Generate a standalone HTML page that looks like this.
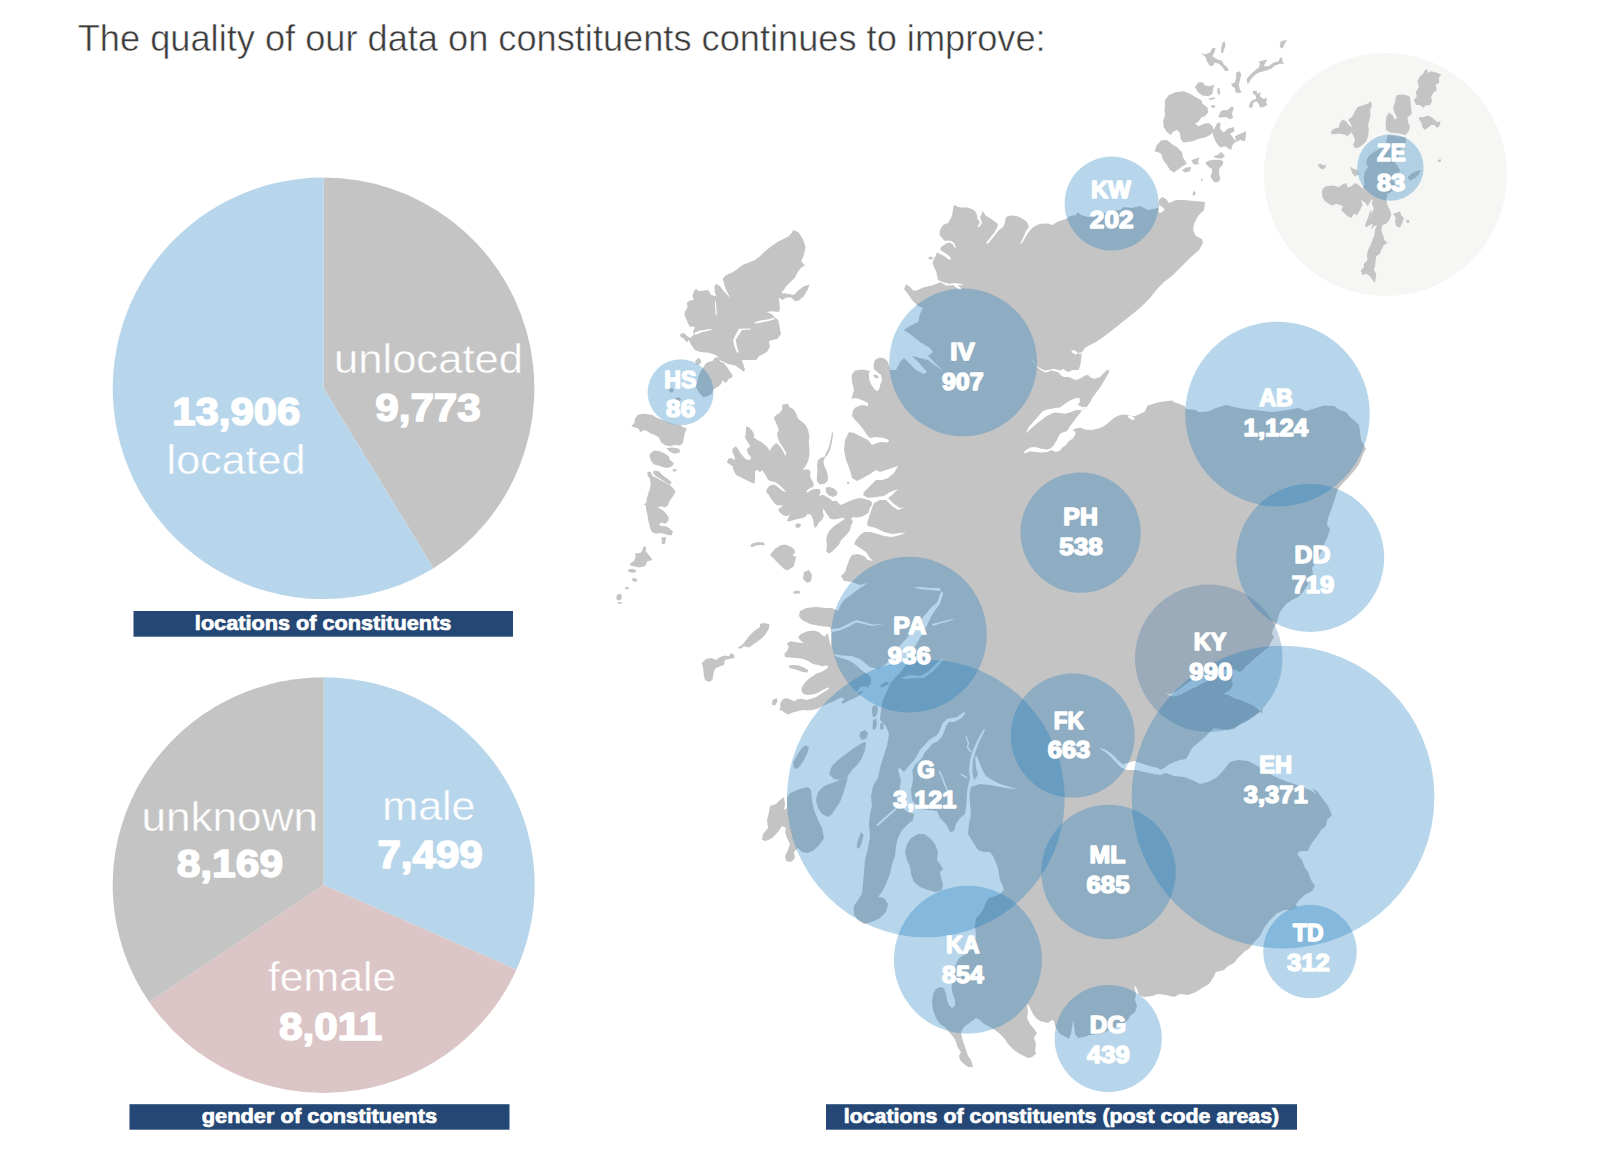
<!DOCTYPE html>
<html lang="en"><head><meta charset="utf-8"><title>Constituents data quality</title>
<style>html,body{margin:0;padding:0;background:#fff}svg{display:block}</style></head>
<body>
<svg width="1600" height="1161" viewBox="0 0 1600 1161">
<rect width="1600" height="1161" fill="#fff"/>
<text x="77.75" y="51.0" font-family='"Liberation Sans", "DejaVu Sans", sans-serif' font-size="37" font-weight="normal" fill="#3c3c3c" textLength="967.92" lengthAdjust="spacingAndGlyphs" stroke="#fff" stroke-width="0.5">The quality of our data on constituents continues to improve:</text>
<path d="M323.60,388.30 L323.60,177.50 A210.8,210.8 0 0 1 433.48,568.19 Z" fill="#c4c4c4"/>
<path d="M323.60,388.30 L433.48,568.19 A210.8,210.8 0 1 1 323.60,177.50 Z" fill="#b8d6eb"/>
<text x="333.96" y="373.0" font-family='"Liberation Sans", "DejaVu Sans", sans-serif' font-size="40" font-weight="normal" fill="#fff" textLength="189.07" lengthAdjust="spacingAndGlyphs" stroke="#c4c4c4" stroke-width="0.4">unlocated</text>
<text x="375.22" y="421.0" font-family='"Liberation Sans", "DejaVu Sans", sans-serif' font-size="39" font-weight="bold" fill="#fff" textLength="105.57" lengthAdjust="spacingAndGlyphs" stroke="#fff" stroke-width="1.6" stroke-linejoin="round">9,773</text>
<text x="172.24" y="425.0" font-family='"Liberation Sans", "DejaVu Sans", sans-serif' font-size="39" font-weight="bold" fill="#fff" textLength="128.17" lengthAdjust="spacingAndGlyphs" stroke="#fff" stroke-width="1.6" stroke-linejoin="round">13,906</text>
<text x="166.62" y="473.5" font-family='"Liberation Sans", "DejaVu Sans", sans-serif' font-size="40" font-weight="normal" fill="#fff" textLength="138.85" lengthAdjust="spacingAndGlyphs" stroke="#b8d6eb" stroke-width="0.4">located</text>
<rect x="133.5" y="611" width="379.5" height="25.7" fill="#244775"/>
<text x="194.87" y="630.0" font-family='"Liberation Sans", "DejaVu Sans", sans-serif' font-size="20" font-weight="bold" fill="#fff" textLength="256.52" lengthAdjust="spacingAndGlyphs" stroke="#fff" stroke-width="0.7" stroke-linejoin="round">locations of constituents</text>
<path d="M323.70,885.10 L323.70,677.30 A211,207.8 0 0 1 516.44,969.65 Z" fill="#b8d6eb"/>
<path d="M323.70,885.10 L516.44,969.65 A211,207.8 0 0 1 149.18,1001.89 Z" fill="#dcc5c6"/>
<path d="M323.70,885.10 L149.18,1001.89 A211,207.8 0 0 1 323.70,677.30 Z" fill="#c4c4c4"/>
<text x="382.30" y="819.5" font-family='"Liberation Sans", "DejaVu Sans", sans-serif' font-size="40" font-weight="normal" fill="#fff" textLength="93.26" lengthAdjust="spacingAndGlyphs" stroke="#b8d6eb" stroke-width="0.4">male</text>
<text x="377.46" y="867.6" font-family='"Liberation Sans", "DejaVu Sans", sans-serif' font-size="39" font-weight="bold" fill="#fff" textLength="105.32" lengthAdjust="spacingAndGlyphs" stroke="#fff" stroke-width="1.6" stroke-linejoin="round">7,499</text>
<text x="141.45" y="831.0" font-family='"Liberation Sans", "DejaVu Sans", sans-serif' font-size="40" font-weight="normal" fill="#fff" textLength="176.60" lengthAdjust="spacingAndGlyphs" stroke="#c4c4c4" stroke-width="0.4">unknown</text>
<text x="176.67" y="877.3" font-family='"Liberation Sans", "DejaVu Sans", sans-serif' font-size="39" font-weight="bold" fill="#fff" textLength="106.43" lengthAdjust="spacingAndGlyphs" stroke="#fff" stroke-width="1.6" stroke-linejoin="round">8,169</text>
<text x="267.96" y="991.3" font-family='"Liberation Sans", "DejaVu Sans", sans-serif' font-size="40" font-weight="normal" fill="#fff" textLength="128.27" lengthAdjust="spacingAndGlyphs" stroke="#dcc5c6" stroke-width="0.4">female</text>
<text x="278.91" y="1039.8" font-family='"Liberation Sans", "DejaVu Sans", sans-serif' font-size="39" font-weight="bold" fill="#fff" textLength="103.49" lengthAdjust="spacingAndGlyphs" stroke="#fff" stroke-width="1.6" stroke-linejoin="round">8,011</text>
<rect x="129.5" y="1104.2" width="380" height="25.5" fill="#244775"/>
<text x="201.67" y="1122.7" font-family='"Liberation Sans", "DejaVu Sans", sans-serif' font-size="20" font-weight="bold" fill="#fff" textLength="235.45" lengthAdjust="spacingAndGlyphs" stroke="#fff" stroke-width="0.7" stroke-linejoin="round">gender of constituents</text>
<circle cx="1385.4" cy="174.6" r="121.6" fill="#f6f6f4"/>
<g fill="#c4c4c4" stroke="none">
<path d="M955.0,205.0 L958.0,207.0 L962.0,207.5 L967.0,207.5 L972.0,209.0 L975.0,211.0 L977.0,215.0 L977.5,219.0 L980.0,222.0 L977.5,227.0 L979.0,227.2 L982.0,223.0 L981.0,220.0 L980.0,217.0 L982.0,214.0 L981.5,210.5 L984.0,213.0 L986.0,216.0 L990.0,218.0 L994.0,221.0 L998.0,224.0 L997.0,228.0 L994.0,233.0 L990.0,238.0 L986.0,243.0 L987.5,244.0 L991.0,240.0 L995.0,235.0 L999.0,230.0 L1003.0,227.0 L1005.0,223.0 L1005.5,218.0 L1008.0,216.0 L1013.0,215.5 L1018.0,216.5 L1023.0,219.0 L1027.0,222.0 L1029.0,227.0 L1026.0,231.0 L1024.0,236.0 L1021.0,242.0 L1020.0,244.0 L1022.0,243.0 L1025.0,238.0 L1028.0,233.0 L1031.0,229.0 L1035.0,226.0 L1040.0,223.8 L1048.0,223.6 L1052.0,225.0 L1058.0,221.6 L1066.0,219.0 L1070.0,216.0 L1076.0,215.0 L1078.0,212.0 L1081.0,215.0 L1088.0,217.0 L1096.0,216.0 L1104.0,213.0 L1112.0,211.0 L1120.0,210.0 L1124.0,207.0 L1132.0,208.0 L1140.0,206.0 L1148.0,210.0 L1158.0,208.0 L1159.0,200.0 L1162.0,197.0 L1166.0,199.0 L1169.0,203.0 L1176.0,200.0 L1184.0,200.0 L1194.0,201.0 L1205.0,202.0 L1204.0,210.0 L1198.0,216.0 L1194.0,224.0 L1193.0,230.0 L1196.0,236.0 L1202.0,239.0 L1203.0,243.0 L1199.0,250.0 L1190.0,258.0 L1180.0,268.0 L1172.0,276.0 L1164.0,282.0 L1158.0,288.0 L1150.0,298.0 L1140.0,308.0 L1130.0,316.0 L1120.0,324.0 L1110.0,332.0 L1102.0,338.0 L1096.0,342.0 L1088.0,346.0 L1080.0,351.0 L1085.0,348.1 L1081.9,352.5 L1081.2,357.5 L1080.6,363.8 L1079.4,368.1 L1085.0,375.6 L1088.1,375.0 L1091.2,378.1 L1095.0,378.8 L1100.0,376.9 L1103.1,373.8 L1106.2,370.6 L1109.4,370.0 L1108.8,373.1 L1106.2,377.5 L1103.1,382.5 L1100.0,387.5 L1096.2,392.5 L1092.5,397.5 L1090.0,402.5 L1086.2,407.5 L1081.9,410.0 L1080.6,412.5 L1077.5,416.2 L1073.8,421.2 L1070.0,426.2 L1066.9,431.2 L1072.5,430.0 L1075.0,428.8 L1080.0,427.5 L1085.0,429.4 L1091.2,430.0 L1097.5,428.8 L1102.5,426.9 L1106.2,424.4 L1110.0,421.2 L1113.8,418.1 L1118.8,415.6 L1122.5,414.4 L1127.5,415.0 L1135.0,416.2 L1140.0,413.8 L1144.4,411.9 L1146.2,408.8 L1147.5,405.6 L1151.2,404.4 L1157.5,402.5 L1165.0,401.2 L1172.5,400.6 L1173.8,401.9 L1178.8,403.8 L1185.0,406.2 L1186.0,409.0 L1196.0,410.0 L1198.0,412.0 L1208.0,411.6 L1216.0,408.0 L1226.0,405.0 L1234.0,407.0 L1244.0,409.0 L1254.0,410.0 L1264.0,411.0 L1272.0,412.0 L1280.0,411.0 L1288.0,410.0 L1298.0,408.0 L1306.0,411.0 L1316.0,408.0 L1324.0,405.6 L1334.0,406.0 L1340.0,410.0 L1346.0,412.0 L1350.0,417.0 L1355.0,421.0 L1359.0,425.0 L1360.0,432.0 L1361.0,440.0 L1364.0,445.0 L1366.0,449.0 L1363.0,454.0 L1361.0,460.0 L1358.0,466.0 L1353.0,472.0 L1348.0,478.0 L1342.0,484.0 L1338.0,489.0 L1336.0,495.0 L1334.0,502.0 L1331.0,510.0 L1328.0,518.0 L1327.0,525.0 L1330.0,529.0 L1328.0,536.0 L1325.0,542.0 L1322.0,550.0 L1318.0,558.0 L1315.0,564.0 L1312.0,568.0 L1313.0,574.0 L1310.0,580.0 L1307.0,586.0 L1303.0,592.0 L1298.0,597.0 L1292.0,600.0 L1286.0,604.0 L1283.0,608.0 L1280.0,612.0 L1279.0,615.0 L1278.0,619.0 L1276.0,624.0 L1273.0,629.0 L1272.0,634.0 L1274.0,637.0 L1271.0,642.0 L1269.0,647.0 L1265.0,650.0 L1260.0,654.0 L1255.0,658.0 L1251.0,662.0 L1246.0,666.0 L1243.0,670.0 L1240.0,672.0 L1233.0,676.0 L1231.5,680.0 L1233.0,685.0 L1230.0,690.0 L1225.0,693.0 L1223.0,694.0 L1228.0,695.0 L1235.0,698.5 L1240.0,700.0 L1245.0,702.0 L1250.0,704.0 L1255.0,707.0 L1260.0,711.0 L1262.0,714.0 L1263.0,708.0 L1260.0,712.0 L1254.0,716.0 L1248.0,720.0 L1240.0,724.0 L1234.0,729.0 L1228.0,730.0 L1220.0,729.0 L1214.0,728.0 L1210.0,732.0 L1204.0,738.0 L1198.0,743.0 L1192.0,748.0 L1189.0,754.0 L1186.0,759.0 L1180.0,760.0 L1174.0,762.0 L1168.0,765.0 L1164.0,768.0 L1160.0,770.0 L1166.0,773.0 L1174.0,776.0 L1184.0,777.0 L1192.0,780.0 L1200.0,784.0 L1208.0,782.0 L1216.0,778.0 L1222.0,772.0 L1226.0,767.0 L1230.0,762.0 L1238.0,760.0 L1248.0,761.0 L1256.0,765.0 L1264.0,770.0 L1272.0,775.0 L1280.0,779.0 L1288.0,782.0 L1300.0,786.0 L1310.0,790.0 L1318.0,795.0 L1323.0,800.0 L1327.0,806.0 L1330.0,812.0 L1312.0,788.0 L1318.0,792.0 L1322.0,798.0 L1328.0,806.0 L1332.0,815.0 L1327.0,820.0 L1326.0,826.0 L1321.0,830.0 L1318.0,835.0 L1314.0,840.0 L1310.0,846.0 L1308.0,851.0 L1300.0,851.0 L1297.0,854.0 L1302.0,860.0 L1304.0,866.0 L1308.0,872.0 L1311.0,880.0 L1315.0,886.0 L1312.0,891.0 L1306.0,894.0 L1300.0,899.0 L1296.0,904.0 L1297.0,907.0 L1290.0,910.0 L1284.0,910.0 L1276.0,914.0 L1270.0,920.0 L1264.0,928.0 L1260.0,936.0 L1254.0,942.0 L1250.0,948.0 L1244.0,952.0 L1238.0,958.0 L1234.0,963.0 L1228.0,966.0 L1224.0,970.0 L1216.0,972.0 L1213.0,978.0 L1209.0,984.0 L1202.0,988.0 L1196.0,992.0 L1188.0,995.0 L1180.0,994.0 L1174.0,997.0 L1166.0,995.0 L1158.0,994.0 L1152.0,996.0 L1144.0,997.0 L1139.0,995.0 L1137.0,989.0 L1134.0,985.0 L1136.0,994.0 L1135.0,1000.0 L1137.0,1006.0 L1135.0,1012.0 L1130.0,1016.0 L1128.0,1020.0 L1122.0,1024.0 L1116.0,1027.0 L1110.0,1030.0 L1100.0,1034.0 L1090.0,1035.0 L1084.0,1037.0 L1078.0,1038.0 L1075.0,1034.0 L1074.4,1027.0 L1073.0,1020.0 L1072.0,1028.0 L1071.0,1034.0 L1069.0,1039.0 L1064.0,1036.0 L1060.0,1034.0 L1058.0,1031.0 L1055.0,1026.0 L1054.0,1021.0 L1052.0,1020.0 L1048.0,1023.0 L1040.0,1021.0 L1036.0,1018.0 L1033.0,1014.0 L1031.0,1010.0 L1029.0,1006.0 L1027.0,1004.0 L1028.0,1012.0 L1027.0,1018.0 L1030.0,1024.0 L1034.0,1029.0 L1037.0,1033.0 L1034.0,1038.0 L1036.0,1044.0 L1035.0,1050.0 L1036.0,1054.0 L1032.0,1057.0 L1028.0,1058.0 L1020.0,1054.0 L1014.0,1050.0 L1008.0,1044.0 L1004.0,1038.0 L1000.0,1034.0 L995.0,1030.0 L990.0,1027.0 L984.0,1024.0 L980.0,1020.0 L976.0,1018.0 L972.0,1021.0 L968.0,1024.0 L964.0,1027.0 L961.0,1032.0 L962.0,1038.0 L964.0,1044.0 L966.0,1050.0 L968.0,1056.0 L971.0,1060.0 L973.0,1067.0 L968.0,1067.0 L964.0,1064.0 L960.0,1060.0 L959.0,1056.0 L961.0,1052.0 L958.0,1048.0 L956.0,1042.0 L954.0,1038.0 L950.0,1033.0 L946.0,1028.0 L940.0,1024.0 L936.0,1018.0 L933.0,1010.0 L932.0,1002.0 L933.0,994.0 L936.0,989.0 L940.0,987.0 L944.0,988.0 L946.0,994.0 L947.0,1000.0 L949.0,1005.0 L952.0,1008.0 L955.0,1006.0 L955.0,1000.0 L953.0,995.0 L951.6,989.0 L952.0,980.0 L954.0,972.0 L956.0,964.0 L959.0,958.0 L966.0,954.0 L974.0,946.0 L976.0,936.0 L975.0,926.0 L976.0,918.0 L980.0,914.0 L984.0,908.0 L986.0,902.0 L989.0,898.0 L996.0,896.0 L1000.0,894.0 L1004.0,890.0 L1002.0,884.0 L1000.0,880.0 L1000.0,880.0 L998.0,868.0 L993.0,856.0 L990.0,852.0 L984.0,852.0 L978.0,850.0 L973.0,842.0 L968.0,834.0 L969.0,824.0 L971.0,814.0 L970.0,804.0 L969.6,794.0 L971.0,787.0 L968.0,786.0 L967.0,792.0 L966.4,804.0 L965.0,814.0 L960.0,818.0 L956.0,824.0 L954.0,831.0 L950.0,832.0 L946.0,824.0 L940.0,818.0 L937.0,811.0 L928.0,810.0 L920.0,809.0 L914.0,814.0 L913.0,820.0 L908.0,824.0 L902.0,830.0 L898.0,838.0 L896.0,846.0 L895.0,856.0 L892.0,864.0 L890.0,874.0 L886.0,884.0 L882.0,892.0 L878.0,897.0 L884.0,898.0 L888.0,904.0 L886.0,912.0 L880.0,918.0 L872.0,922.0 L864.0,924.0 L858.0,920.0 L853.6,914.0 L854.0,906.0 L858.0,900.0 L862.0,894.0 L863.0,884.0 L864.0,872.0 L865.0,860.0 L868.0,848.0 L870.0,836.0 L869.0,824.0 L870.0,814.0 L872.0,806.0 L871.0,796.0 L873.0,786.0 L878.0,778.0 L880.0,768.0 L883.0,758.0 L887.0,746.0 L889.0,734.0 L886.0,726.0 L880.0,720.0 L881.0,710.0 L883.0,700.0 L887.0,691.0 L890.0,684.0 L878.0,669.0 L870.0,667.0 L860.0,659.0 L852.0,656.0 L842.0,655.6 L833.0,654.0 L831.0,648.0 L831.6,632.0 L830.0,627.0 L820.0,626.0 L810.0,624.0 L802.0,620.0 L799.0,616.0 L800.0,611.0 L806.0,608.0 L816.0,607.0 L826.0,608.0 L832.0,608.0 L838.0,611.0 L840.0,606.0 L844.0,600.0 L852.0,594.0 L860.0,588.0 L868.0,583.0 L860.0,585.0 L852.0,582.0 L844.0,581.0 L841.0,576.0 L845.0,572.0 L847.0,566.0 L849.0,560.0 L852.0,555.0 L858.0,554.0 L864.0,556.0 L868.0,560.0 L873.0,561.0 L870.0,558.0 L866.0,552.0 L860.0,548.0 L854.0,544.0 L856.0,540.0 L860.0,535.0 L864.0,532.0 L870.0,532.0 L878.0,534.0 L884.0,536.0 L892.0,537.0 L900.0,535.0 L906.0,532.4 L900.0,533.0 L892.0,534.0 L884.0,532.0 L876.0,528.0 L868.0,526.0 L867.0,524.0 L868.0,520.0 L870.0,514.0 L872.0,508.0 L874.0,503.0 L880.0,500.0 L886.0,500.0 L892.0,506.0 L898.0,510.0 L905.0,507.0 L900.0,508.0 L894.0,504.0 L888.0,498.0 L892.0,495.0 L898.0,489.0 L890.0,492.0 L884.0,496.0 L876.0,497.0 L868.0,498.0 L863.0,495.0 L864.0,492.0 L868.0,488.0 L872.0,484.0 L876.0,480.0 L882.0,480.0 L888.0,478.0 L894.0,473.0 L898.0,466.0 L892.0,468.0 L886.0,470.0 L880.0,472.0 L876.0,470.0 L870.0,474.0 L863.0,478.0 L857.0,481.0 L852.0,478.0 L850.0,470.0 L846.0,460.0 L844.0,450.0 L845.0,440.0 L849.0,432.0 L854.0,433.0 L860.0,436.0 L868.0,440.0 L872.0,445.0 L880.0,442.0 L888.0,442.4 L889.0,440.0 L884.0,438.0 L876.0,437.0 L870.0,438.0 L867.0,435.0 L863.0,429.0 L859.0,424.0 L855.0,420.0 L852.0,416.0 L853.0,410.0 L856.0,407.0 L862.0,405.0 L868.0,406.0 L868.0,403.0 L862.0,400.0 L856.0,398.0 L851.0,399.0 L852.0,397.0 L854.0,390.0 L852.0,382.0 L851.6,375.0 L855.0,370.6 L862.0,369.4 L868.0,370.4 L870.0,371.0 L868.8,374.0 L869.2,379.0 L871.2,384.4 L874.4,389.2 L877.2,391.2 L879.2,389.0 L880.2,385.0 L882.0,380.0 L881.0,375.0 L877.2,372.0 L874.0,369.2 L873.6,366.0 L874.0,362.0 L876.0,359.0 L880.0,357.6 L884.4,358.4 L887.4,361.0 L890.0,368.0 L890.0,370.0 L896.0,370.0 L900.0,362.0 L904.0,358.0 L908.0,362.0 L916.0,370.0 L924.0,374.0 L927.0,372.0 L920.0,364.0 L912.0,356.0 L920.0,358.0 L928.0,360.0 L936.0,366.0 L943.0,371.0 L938.0,366.0 L928.0,356.0 L933.0,352.0 L930.0,348.0 L920.0,342.0 L910.0,334.0 L904.0,330.0 L910.0,326.0 L918.0,322.0 L920.0,314.0 L923.0,308.0 L918.0,306.0 L915.0,303.0 L912.0,300.0 L908.0,294.0 L904.0,289.0 L906.2,284.2 L909.5,286.5 L913.5,290.8 L918.0,290.0 L922.0,288.0 L927.0,286.5 L932.0,285.5 L936.0,284.0 L940.0,282.2 L942.5,283.2 L946.0,285.5 L950.0,285.5 L953.0,285.0 L956.0,287.5 L960.0,290.0 L961.5,288.5 L958.0,285.5 L964.0,284.7 L960.0,283.8 L954.0,283.0 L949.0,283.8 L944.0,282.5 L940.0,281.0 L938.0,280.0 L937.0,275.0 L936.0,271.0 L934.0,267.0 L932.5,263.0 L934.0,259.0 L936.0,255.0 L937.0,252.5 L940.0,254.0 L944.0,256.0 L948.0,259.0 L950.0,260.0 L951.0,258.0 L948.0,255.0 L945.0,253.0 L942.0,251.0 L940.0,249.5 L941.0,247.0 L944.0,245.0 L947.0,243.0 L950.0,242.5 L953.0,244.5 L955.0,248.0 L956.0,247.0 L954.0,243.0 L951.0,241.0 L948.0,240.5 L945.0,241.0 L942.0,238.0 L939.5,235.0 L940.0,230.0 L943.0,225.0 L948.0,223.0 L951.0,218.0 L952.5,213.0 L953.5,206.0Z"/>
<path d="M782.5,404.4 L788.1,403.8 L789.4,406.9 L793.8,409.4 L796.2,413.8 L798.1,418.8 L802.5,421.9 L805.6,425.0 L808.1,430.0 L809.4,436.2 L808.8,442.5 L809.4,448.8 L809.4,455.0 L808.1,461.2 L805.6,466.2 L802.5,470.0 L805.0,469.4 L808.8,469.4 L810.6,471.9 L810.0,476.2 L811.9,480.0 L813.8,483.8 L813.1,486.9 L810.0,488.1 L806.2,491.2 L807.5,492.5 L811.2,490.0 L816.2,488.8 L820.0,489.4 L820.6,492.5 L818.8,496.2 L821.2,495.0 L823.8,495.0 L826.9,496.9 L830.0,498.8 L832.5,501.2 L836.2,500.6 L838.1,502.5 L840.0,505.0 L843.8,503.8 L848.8,501.2 L853.8,499.4 L858.8,498.1 L863.8,498.8 L868.8,500.0 L871.9,501.9 L871.9,505.0 L869.4,508.8 L868.8,512.5 L865.0,515.0 L861.2,516.9 L856.2,517.5 L852.5,516.9 L851.2,519.4 L853.1,521.2 L851.2,525.0 L850.0,530.0 L847.5,533.8 L843.8,537.5 L841.2,540.0 L838.8,545.0 L832.5,551.2 L828.8,553.8 L826.2,551.2 L826.9,545.0 L826.2,540.0 L827.5,533.8 L830.0,530.0 L833.8,526.2 L837.5,523.8 L841.2,521.2 L845.0,518.8 L842.5,517.5 L838.8,518.8 L833.8,519.4 L830.0,518.8 L827.5,515.0 L825.0,511.2 L822.5,508.1 L823.1,512.5 L823.8,516.2 L821.9,520.0 L818.8,522.5 L816.9,526.2 L815.0,528.1 L813.8,525.0 L813.1,520.0 L811.2,515.0 L807.5,513.8 L806.2,516.2 L802.5,518.1 L798.8,518.8 L793.8,520.0 L790.0,521.2 L786.9,521.2 L788.1,518.1 L790.0,515.0 L786.2,516.2 L782.5,515.0 L779.4,511.9 L778.1,508.8 L781.2,507.5 L782.5,505.0 L780.0,505.6 L776.2,505.0 L773.8,502.5 L771.2,498.8 L768.8,495.0 L766.2,491.9 L766.9,488.8 L770.0,485.6 L773.8,484.4 L776.9,486.2 L780.0,488.8 L783.1,491.2 L786.2,491.9 L782.5,488.1 L778.8,484.4 L775.0,481.9 L771.2,481.2 L768.1,480.0 L766.2,476.2 L763.8,472.5 L761.9,470.0 L760.0,472.5 L757.5,470.0 L755.0,471.2 L755.0,480.0 L754.4,483.8 L751.2,482.5 L746.2,480.0 L741.2,477.5 L736.2,475.0 L733.8,471.2 L732.5,466.2 L728.8,463.8 L726.9,462.5 L728.1,458.8 L731.2,458.1 L735.0,460.0 L734.4,456.2 L732.5,452.5 L732.5,448.8 L735.6,446.2 L738.1,448.8 L740.0,452.5 L743.1,456.2 L746.2,459.4 L750.0,460.0 L751.2,457.5 L748.1,453.8 L746.9,450.0 L748.1,447.5 L750.6,446.9 L745.0,437.5 L745.6,433.8 L746.2,426.2 L749.4,427.5 L752.5,431.2 L754.4,435.0 L753.8,437.5 L757.5,440.0 L761.2,441.9 L764.4,444.4 L768.1,448.1 L770.0,451.2 L771.2,448.1 L773.8,445.0 L776.2,443.1 L780.0,446.2 L783.1,451.2 L785.6,456.2 L786.2,453.1 L783.1,447.5 L780.0,443.1 L778.1,438.8 L776.9,433.8 L778.8,430.0 L777.5,426.2 L775.6,421.9 L773.8,418.1 L776.2,415.0 L779.4,413.1 L781.9,410.0Z"/>
<path d="M821.2,457.5 L824.4,456.9 L826.2,452.5 L828.8,447.5 L830.0,442.5 L831.2,437.5 L831.9,432.5 L833.1,432.5 L832.5,438.8 L831.2,445.0 L830.0,450.0 L827.5,455.0 L825.0,457.5 L823.5,461.2 L824.0,465.0 L826.2,470.0 L828.1,476.2 L827.5,481.2 L824.4,483.8 L820.0,484.4 L816.9,481.2 L816.9,476.2 L817.5,470.0 L816.9,465.0 L818.1,460.0Z"/>
<path d="M825.6,487.5 L830.0,486.9 L834.4,488.8 L837.5,491.9 L836.9,495.0 L833.1,496.9 L828.8,495.6 L826.2,492.5Z"/>
<path d="M795.0,525.0 L798.1,523.1 L801.2,524.4 L800.0,527.5 L796.2,527.8Z"/>
<path d="M846.9,481.5 L849.4,481.9 L849.1,484.0 L847.1,483.8Z"/>
<path d="M635.0,553.8 L641.2,552.5 L643.8,546.2 L646.2,546.9 L645.6,551.2 L650.0,556.2 L652.5,560.0 L647.5,561.2 L645.0,566.2 L638.8,567.5 L633.8,566.2 L630.0,565.6 L630.6,563.1 L633.8,561.2 L635.6,556.9Z"/>
<path d="M628.1,569.4 L632.5,568.8 L636.2,570.6 L635.6,572.5 L631.2,572.5 L628.5,571.9Z"/>
<path d="M631.9,578.5 L635.6,578.1 L637.5,580.6 L635.6,581.9 L632.5,581.0Z"/>
<path d="M625.0,587.2 L628.5,586.9 L628.8,589.0 L625.6,589.5Z"/>
<path d="M617.5,594.4 L621.2,593.8 L621.9,598.1 L620.0,600.6 L616.9,600.0 L616.2,596.9Z"/>
<path d="M617.5,602.1 L621.5,602.2 L621.9,603.8 L618.1,603.8Z"/>
<path d="M661.5,537.5 L666.0,536.9 L665.6,541.2 L664.4,544.4 L661.9,543.8Z"/>
<path d="M750.0,545.6 L753.1,543.1 L758.8,542.1 L763.8,542.5 L765.0,545.6 L761.2,545.0 L756.2,545.6 L751.9,547.2Z"/>
<path d="M770.0,555.0 L775.0,548.8 L780.0,545.6 L785.0,544.4 L790.0,546.2 L794.4,549.4 L795.0,553.1 L792.5,555.0 L796.2,556.9 L795.0,561.2 L793.8,566.2 L787.5,570.6 L783.8,568.8 L780.0,565.0 L776.2,561.2 L773.1,558.1Z"/>
<path d="M769.4,623.8 L768.8,628.8 L765.0,635.0 L761.2,638.8 L756.2,642.5 L752.5,645.0 L748.8,647.5 L743.8,646.2 L741.2,648.8 L737.5,648.1 L742.5,644.4 L746.2,640.0 L748.8,636.2 L753.8,631.2 L760.0,626.9 L765.0,624.4Z"/>
<path d="M731.2,653.1 L734.4,655.0 L734.4,658.1 L730.0,658.8 L725.0,660.0 L723.8,665.0 L720.0,666.2 L715.0,668.8 L713.1,675.0 L712.5,680.0 L708.8,681.9 L705.0,680.0 L703.8,675.0 L703.1,667.5 L701.9,663.1 L706.2,658.8 L711.2,658.1 L716.2,660.0 L720.0,656.9 L725.0,655.6 L728.8,656.2Z"/>
<path d="M792.5,591.9 L796.2,590.6 L800.0,591.2 L799.8,593.5 L795.0,593.8Z"/>
<path d="M804.0,572.0 L809.0,570.0 L812.0,575.0 L811.0,581.0 L807.0,583.0 L803.0,579.0Z"/>
<path d="M793.1,230.0 L798.1,231.9 L801.2,236.2 L803.8,241.2 L805.6,247.5 L803.8,255.0 L801.2,261.2 L805.0,265.6 L801.2,267.5 L797.5,272.5 L795.0,277.5 L790.0,282.5 L786.2,286.2 L783.8,290.0 L781.2,293.1 L788.1,293.8 L793.8,295.0 L798.8,290.0 L803.8,286.2 L809.4,284.4 L807.5,290.0 L803.8,296.2 L798.8,300.6 L795.0,301.2 L791.2,297.5 L786.2,297.5 L782.5,300.0 L778.8,297.5 L779.4,302.5 L780.0,308.8 L778.8,311.9 L772.5,311.2 L766.2,311.9 L771.2,313.8 L775.0,317.5 L778.1,320.0 L779.4,325.0 L780.0,330.0 L781.2,333.8 L777.5,338.8 L772.5,340.0 L768.8,341.2 L770.0,346.2 L767.5,351.2 L763.8,353.8 L758.8,356.2 L756.2,360.0 L720.0,360.0 L717.5,356.2 L712.5,353.8 L707.5,352.5 L700.0,351.9 L695.0,350.0 L691.2,345.0 L688.8,340.0 L686.9,342.5 L683.8,338.8 L680.0,336.2 L680.6,333.8 L683.8,333.1 L687.5,336.2 L690.0,338.1 L693.8,335.0 L693.1,331.2 L695.0,327.5 L692.5,326.2 L690.0,326.9 L688.1,323.8 L686.2,318.8 L684.4,315.0 L685.0,311.2 L687.5,307.5 L686.9,302.5 L690.0,300.6 L693.8,300.0 L692.5,296.2 L693.8,291.2 L696.2,288.8 L698.8,291.2 L703.8,290.6 L708.1,290.0 L711.2,295.0 L716.2,296.2 L715.0,292.5 L714.4,286.2 L716.2,283.8 L720.0,286.2 L723.8,291.2 L727.5,295.0 L730.0,298.1 L727.5,292.5 L725.0,287.5 L723.8,282.5 L722.5,278.8 L726.2,275.0 L731.2,273.1 L736.2,270.0 L742.5,265.0 L748.8,262.5 L755.0,260.0 L760.0,256.2 L765.0,251.2 L771.2,246.2 L777.5,241.9 L783.8,238.8 L788.8,236.2 L791.9,232.5Z"/>
<path d="M718.8,357.5 L741.2,357.5 L742.8,363.1 L745.0,369.4 L744.0,371.9 L740.0,368.8 L735.0,365.6 L727.5,363.8 L720.0,360.2Z"/>
<path d="M705.6,363.8 L708.1,361.9 L712.5,361.0 L715.0,357.5 L718.8,357.5 L720.0,361.5 L723.8,363.1 L726.9,366.9 L729.4,370.6 L732.5,375.0 L731.9,377.8 L728.8,378.8 L726.9,381.9 L724.4,382.5 L722.5,380.0 L721.2,383.8 L718.8,386.2 L715.6,388.1 L713.1,389.8 L712.2,393.1 L710.0,395.0 L706.9,396.5 L703.1,397.2 L700.2,394.0 L697.5,390.0 L695.8,386.2 L697.5,380.0 L699.0,375.0 L701.5,370.0 L703.8,366.5Z"/>
<path d="M695.0,361.2 L698.1,358.1 L701.2,360.0 L700.6,363.8 L696.9,365.0Z"/>
<path d="M675.0,398.1 L678.8,397.2 L681.2,399.0 L680.0,401.0 L676.2,400.8Z"/>
<path d="M668.8,389.0 L671.9,387.8 L674.0,390.0 L672.5,392.5 L669.8,392.2Z"/>
<path d="M638.1,414.4 L645.0,413.8 L652.5,415.0 L656.2,417.5 L662.5,420.0 L668.8,422.5 L675.0,424.4 L680.0,425.0 L683.8,427.5 L686.9,428.8 L685.0,432.5 L683.8,437.5 L683.1,442.5 L680.0,445.6 L675.0,445.0 L670.0,446.2 L665.0,445.0 L661.2,442.5 L658.8,437.5 L655.0,435.0 L651.2,433.8 L647.5,431.2 L643.8,430.0 L640.0,432.5 L638.8,428.8 L635.0,427.5 L631.2,426.2 L634.4,423.1 L635.0,418.8Z"/>
<path d="M666.2,448.1 L672.5,447.5 L679.4,448.8 L680.0,452.5 L675.0,453.8 L670.0,451.9Z"/>
<path d="M649.4,454.4 L653.8,450.6 L660.0,451.2 L665.0,453.8 L668.8,456.2 L670.0,460.0 L673.8,463.1 L672.5,466.2 L667.5,468.1 L662.5,466.9 L658.8,465.6 L653.8,464.4 L650.6,460.0Z"/>
<path d="M672.2,469.8 L675.6,468.8 L676.9,470.6 L673.8,472.0Z"/>
<path d="M646.9,473.1 L649.4,471.2 L651.2,472.5 L652.5,476.2 L656.2,477.5 L660.0,480.0 L665.0,482.5 L670.0,485.0 L672.5,487.5 L675.6,491.2 L673.8,495.0 L671.2,498.8 L669.4,501.2 L668.1,505.0 L665.0,507.5 L661.2,506.2 L657.5,507.5 L662.5,510.0 L666.2,513.8 L668.8,517.5 L668.1,521.2 L665.0,523.8 L661.2,522.5 L658.8,525.0 L662.5,526.2 L666.2,526.2 L670.0,528.8 L673.1,531.9 L671.2,535.6 L666.2,534.4 L661.2,533.1 L656.2,533.8 L652.5,532.5 L650.6,529.4 L649.4,525.0 L648.1,520.0 L647.5,515.0 L646.2,510.0 L645.6,505.0 L643.1,504.4 L646.2,503.1 L646.9,498.8 L648.1,493.8 L650.0,488.8 L650.6,483.8 L650.0,478.8 L648.1,476.2Z"/>
<path d="M653.8,470.6 L658.8,471.2 L662.5,475.0 L667.5,478.8 L671.9,482.5 L670.0,484.4 L665.0,481.9 L660.0,478.8 L655.0,475.6 L653.1,473.1Z"/>
<path d="M798.1,636.9 L801.2,633.8 L807.5,631.2 L813.8,630.6 L818.8,631.9 L822.5,635.6 L825.2,636.2 L827.5,632.8 L828.8,637.5 L829.8,642.5 L831.5,647.5 L833.8,652.5 L835.0,655.9 L841.2,658.1 L847.5,660.0 L852.5,662.5 L857.5,666.2 L861.2,670.0 L865.0,672.5 L868.8,675.0 L871.2,678.8 L870.6,683.8 L867.5,687.5 L864.4,686.2 L860.0,687.5 L856.2,692.5 L860.0,691.9 L863.8,690.6 L860.0,695.0 L855.0,698.1 L850.0,700.0 L846.2,701.9 L843.1,703.8 L841.2,701.9 L845.0,698.8 L841.2,697.5 L836.2,700.0 L831.2,702.5 L827.5,703.8 L822.5,706.2 L817.5,708.8 L812.5,710.0 L807.5,710.6 L802.5,710.0 L797.5,711.2 L792.5,712.5 L788.8,714.4 L785.0,713.1 L781.9,710.6 L778.8,710.0 L780.6,707.5 L780.0,703.8 L782.5,699.4 L786.2,698.1 L791.2,700.0 L795.0,701.2 L796.2,699.4 L801.2,698.8 L806.2,700.0 L811.2,698.8 L816.2,696.9 L821.2,693.8 L826.2,690.6 L829.4,688.1 L828.1,687.5 L822.5,690.0 L817.5,693.1 L812.5,694.4 L807.5,695.0 L803.1,693.8 L801.2,690.0 L802.5,686.2 L805.0,682.5 L808.8,678.8 L812.5,676.2 L816.2,673.8 L821.2,671.9 L825.0,670.0 L828.1,667.5 L827.5,665.2 L822.5,666.2 L817.5,665.0 L812.5,663.8 L808.8,661.2 L802.5,658.8 L796.2,658.1 L790.0,657.5 L785.0,656.9 L784.4,653.8 L786.9,651.2 L788.8,647.5 L786.9,643.1 L791.2,641.2 L797.5,642.5 L803.8,643.1 L800.0,640.0Z"/>
<path d="M788.8,665.6 L793.8,665.0 L798.8,665.6 L803.8,667.5 L808.1,670.0 L807.5,672.5 L802.5,671.9 L797.5,670.0 L792.5,668.8 L789.4,668.1Z"/>
<path d="M772.5,700.0 L776.9,698.1 L777.5,701.2 L775.0,705.6 L771.9,705.0Z"/>
<path d="M760.0,623.8 L765.0,623.1 L769.4,624.4 L767.5,630.0 L763.8,635.0 L760.0,637.5Z"/>
<path d="M879.4,670.0 L883.1,666.9 L886.9,665.0 L886.2,666.9 L883.1,670.0 L880.0,671.9Z"/>
<path d="M880.6,685.0 L885.0,682.5 L890.6,680.0 L890.0,682.5 L885.0,686.2 L881.2,687.5Z"/>
<path d="M872.5,706.2 L876.9,705.0 L878.1,710.0 L876.2,716.2 L873.1,717.5 L871.9,712.5Z"/>
<path d="M873.1,720.0 L876.2,718.8 L876.9,725.0 L875.0,730.0 L872.5,728.8Z"/>
<path d="M860.0,732.5 L865.0,730.0 L868.1,733.1 L866.2,738.8 L861.9,740.0 L859.4,736.2Z"/>
<path d="M880.0,723.8 L883.1,723.1 L883.8,728.8 L880.6,730.0Z"/>
<path d="M787.0,798.0 L790.0,793.0 L800.0,789.0 L808.0,787.0 L811.0,790.0 L812.0,800.0 L814.0,810.0 L818.0,820.0 L822.0,828.0 L824.0,838.0 L820.0,844.0 L814.0,850.0 L808.0,853.0 L802.0,852.0 L798.0,848.0 L794.0,852.0 L795.0,858.0 L791.0,862.0 L786.0,861.0 L785.0,856.0 L788.0,850.0 L790.0,844.0 L787.0,838.0 L785.0,832.0 L786.0,828.0 L782.0,826.0 L778.0,832.0 L772.0,838.0 L766.0,841.0 L762.0,840.0 L763.0,834.0 L768.0,828.0 L767.0,820.0 L769.0,812.0 L770.0,806.0 L776.0,804.0 L780.0,800.0 L784.0,797.0 L785.0,804.0 L784.0,810.0 L787.0,808.0Z"/>
<path d="M816.0,800.0 L818.0,792.0 L824.0,786.0 L832.0,783.0 L840.0,780.0 L848.0,777.0 L846.0,784.0 L843.0,794.0 L840.0,802.0 L836.0,808.0 L832.0,814.0 L828.0,817.0 L822.0,814.0 L818.0,808.0Z"/>
<path d="M829.0,774.0 L832.0,766.0 L838.0,760.0 L846.0,754.0 L854.0,748.0 L862.0,743.0 L866.0,742.0 L865.0,750.0 L862.0,758.0 L858.0,764.0 L852.0,770.0 L847.0,777.0 L840.0,780.0 L834.0,779.0Z"/>
<path d="M806.0,745.0 L809.0,748.0 L807.0,754.0 L804.0,760.0 L800.0,766.0 L797.0,769.0 L794.0,768.0 L793.0,763.0 L796.0,757.0 L799.0,752.0 L802.0,748.0Z"/>
<path d="M861.0,832.0 L863.6,835.0 L862.0,842.0 L859.0,849.0 L856.6,847.0 L858.0,840.0Z"/>
<path d="M918.0,834.0 L924.0,834.0 L930.0,838.0 L935.0,844.0 L938.0,852.0 L937.0,860.0 L940.0,864.0 L943.0,869.0 L940.0,872.0 L941.0,878.0 L943.0,884.0 L942.0,890.0 L936.0,892.0 L928.0,890.0 L920.0,887.0 L914.0,882.0 L911.0,874.0 L910.0,866.0 L907.0,860.0 L905.0,852.0 L907.0,844.0 L911.0,838.0Z"/>
<path d="M1165.0,100.0 L1168.8,95.0 L1176.2,91.9 L1183.8,91.2 L1190.0,93.8 L1196.2,97.5 L1201.2,100.0 L1202.5,103.8 L1207.5,107.5 L1208.1,112.5 L1205.0,116.2 L1201.2,117.5 L1198.8,121.2 L1195.0,123.8 L1198.8,126.2 L1203.8,123.8 L1208.8,123.1 L1212.5,126.2 L1213.8,130.0 L1216.2,125.0 L1217.5,122.5 L1220.6,123.1 L1220.0,128.8 L1223.8,132.5 L1227.5,128.8 L1233.8,126.9 L1234.4,131.2 L1230.0,133.8 L1233.8,138.8 L1236.2,141.2 L1232.5,145.0 L1231.2,150.0 L1228.8,148.8 L1225.0,146.2 L1220.0,147.5 L1216.2,142.5 L1213.8,137.5 L1212.5,132.5 L1210.0,135.0 L1205.0,137.5 L1198.8,138.8 L1192.5,141.2 L1187.5,141.9 L1183.1,142.5 L1180.6,138.8 L1180.0,133.8 L1177.5,130.0 L1173.8,131.2 L1170.6,135.0 L1166.9,131.9 L1163.8,127.5 L1163.1,121.2 L1165.0,115.0 L1164.4,110.0 L1165.0,105.0Z"/>
<path d="M1235.0,136.2 L1240.0,133.8 L1246.2,131.2 L1245.6,137.5 L1245.0,141.2 L1240.0,140.0 L1236.2,141.9Z"/>
<path d="M1154.4,151.2 L1156.9,145.0 L1161.2,140.6 L1166.9,140.0 L1172.5,144.4 L1177.5,147.5 L1181.9,151.9 L1183.1,157.5 L1186.9,163.8 L1182.5,166.2 L1177.5,170.0 L1173.8,172.5 L1170.0,170.0 L1166.9,165.0 L1163.1,160.0 L1161.2,153.8 L1157.5,151.9Z"/>
<path d="M1205.3,162.8 L1209.0,160.5 L1214.3,159.8 L1219.5,159.8 L1223.3,161.3 L1222.5,165.0 L1219.5,168.0 L1218.8,171.8 L1219.5,175.5 L1220.3,179.3 L1218.0,182.3 L1214.3,182.3 L1212.0,179.3 L1210.5,176.3 L1212.0,172.5 L1212.0,168.8 L1209.0,167.3 L1206.8,165.0Z"/>
<path d="M1193.6,190.5 L1195.5,192.4 L1195.1,195.0 L1192.5,195.8 L1192.9,193.1Z"/>
<path d="M1201.5,178.5 L1202.9,178.1 L1202.3,180.8 L1200.8,181.5Z"/>
<path d="M1213.1,156.2 L1217.5,155.0 L1221.2,151.9 L1225.0,156.2 L1221.2,158.8 L1216.2,158.1Z"/>
<path d="M1191.2,160.6 L1195.0,158.8 L1199.8,157.5 L1198.1,161.2 L1198.8,164.4 L1193.8,164.4Z"/>
<path d="M1181.9,170.0 L1186.2,167.5 L1191.2,166.9 L1190.0,171.2 L1185.0,172.5Z"/>
<path d="M1195.0,86.9 L1198.1,82.5 L1202.5,81.9 L1205.0,85.6 L1210.0,86.2 L1214.4,84.4 L1213.1,88.8 L1212.5,93.8 L1208.8,96.2 L1202.5,95.6 L1198.1,92.5Z"/>
<path d="M1217.2,88.5 L1219.4,88.1 L1220.2,92.5 L1219.0,95.6 L1217.5,93.1Z"/>
<path d="M1208.8,98.5 L1214.4,97.2 L1215.0,99.0 L1210.0,100.0Z"/>
<path d="M1210.6,105.4 L1214.4,105.0 L1215.6,107.2 L1212.5,108.1Z"/>
<path d="M1218.1,116.9 L1221.2,110.6 L1227.5,110.0 L1231.9,106.2 L1233.8,108.1 L1231.9,113.8 L1233.1,117.5 L1230.0,119.4 L1226.2,116.9 L1221.2,117.5Z"/>
<path d="M1200.6,53.1 L1205.0,54.4 L1210.0,52.5 L1212.5,48.1 L1215.6,48.1 L1214.4,52.5 L1212.5,56.2 L1217.5,59.4 L1221.9,60.6 L1223.8,64.4 L1227.5,67.5 L1228.8,70.6 L1225.0,71.2 L1222.5,66.9 L1218.8,63.8 L1215.0,62.5 L1212.5,66.2 L1209.4,65.6 L1206.9,61.2 L1205.6,56.9Z"/>
<path d="M1222.5,42.5 L1225.0,41.5 L1225.4,46.2 L1223.8,50.0 L1223.1,53.1 L1221.0,52.5 L1221.2,47.5Z"/>
<path d="M1236.2,72.5 L1240.0,71.2 L1241.2,75.0 L1240.0,80.0 L1238.8,85.0 L1240.0,90.0 L1241.9,91.9 L1238.8,93.1 L1235.6,92.5 L1235.0,88.1 L1231.9,86.2 L1231.2,83.8 L1235.0,82.5 L1236.2,77.5Z"/>
<path d="M1246.9,78.8 L1250.0,75.0 L1253.8,71.2 L1258.8,67.5 L1260.0,63.8 L1258.1,61.9 L1262.5,60.6 L1267.5,59.4 L1265.6,62.5 L1263.8,66.2 L1268.8,66.2 L1273.8,62.5 L1278.8,61.2 L1280.0,57.5 L1282.5,58.1 L1282.5,61.9 L1284.4,63.8 L1280.0,63.8 L1275.0,65.6 L1271.2,68.8 L1267.5,70.0 L1263.8,71.2 L1258.8,72.5 L1255.0,75.0 L1251.2,78.8 L1248.8,83.1 L1247.2,83.8Z"/>
<path d="M1280.0,41.9 L1283.8,40.6 L1287.5,40.2 L1285.0,43.1 L1283.8,46.2 L1281.9,48.8 L1279.4,46.2 L1280.6,44.4Z"/>
<path d="M1252.5,91.2 L1256.2,90.6 L1257.5,93.8 L1260.6,91.9 L1260.0,96.2 L1263.1,98.8 L1266.9,98.1 L1266.2,102.5 L1267.5,105.0 L1263.8,106.9 L1260.0,107.5 L1258.8,103.8 L1256.2,101.2 L1253.1,103.1 L1252.5,107.5 L1248.8,107.5 L1249.4,103.8 L1251.9,100.6 L1256.2,98.8 L1255.6,95.6 L1253.1,93.8Z"/>
<path d="M1425.0,70.0 L1427.5,69.4 L1427.5,73.1 L1430.6,71.2 L1436.2,72.5 L1441.2,74.4 L1438.8,78.1 L1439.4,82.5 L1435.6,85.0 L1436.9,90.0 L1433.8,92.5 L1431.2,96.2 L1431.9,101.2 L1430.0,105.0 L1425.0,105.6 L1423.8,108.1 L1420.0,105.0 L1416.2,105.0 L1413.8,100.0 L1416.9,96.2 L1415.6,92.5 L1418.8,87.5 L1417.5,81.2 L1420.0,76.2 L1423.1,73.8Z"/>
<path d="M1396.9,95.0 L1401.2,94.4 L1406.2,95.0 L1410.0,96.9 L1410.6,102.5 L1411.2,108.8 L1411.9,113.8 L1407.5,117.5 L1408.1,122.5 L1410.0,126.2 L1408.8,131.2 L1405.6,135.0 L1400.0,133.8 L1395.0,133.1 L1390.0,132.5 L1386.2,130.0 L1385.6,123.8 L1386.2,117.5 L1388.8,112.5 L1392.5,115.0 L1395.0,120.0 L1396.9,117.5 L1394.4,112.5 L1393.1,107.5 L1395.0,102.5 L1395.6,98.1Z"/>
<path d="M1418.8,117.5 L1423.8,116.9 L1427.5,115.6 L1431.2,116.9 L1435.0,120.0 L1437.5,121.9 L1440.6,121.2 L1439.4,126.2 L1436.9,128.1 L1434.4,125.0 L1431.2,125.0 L1428.1,127.5 L1425.0,130.0 L1422.5,127.5 L1421.2,122.5 L1419.4,120.0Z"/>
<path d="M1367.5,103.8 L1371.2,101.2 L1371.9,106.2 L1370.0,110.0 L1370.6,115.0 L1369.4,120.0 L1368.1,125.0 L1368.8,130.0 L1368.1,136.2 L1366.2,141.2 L1362.5,145.0 L1358.8,147.5 L1355.0,148.1 L1353.1,145.0 L1355.0,140.0 L1353.8,136.2 L1351.2,132.5 L1347.5,136.2 L1345.6,135.0 L1341.2,133.8 L1336.2,133.8 L1331.9,134.4 L1330.6,131.9 L1333.8,128.8 L1338.8,127.5 L1340.0,122.5 L1343.1,119.4 L1346.2,121.2 L1348.8,125.0 L1352.5,127.5 L1350.0,122.5 L1348.1,120.0 L1352.5,116.2 L1355.0,111.2 L1357.5,106.9 L1362.5,105.6Z"/>
<path d="M1322.5,188.8 L1326.2,186.2 L1332.5,185.6 L1338.8,186.9 L1342.5,184.4 L1346.2,183.1 L1348.1,187.5 L1351.2,186.2 L1355.0,183.1 L1358.8,185.0 L1362.5,188.8 L1367.5,192.5 L1372.5,197.5 L1370.0,202.5 L1367.5,206.2 L1365.0,202.5 L1361.2,200.0 L1362.5,205.0 L1360.0,210.0 L1357.5,215.0 L1353.8,213.8 L1351.2,218.1 L1347.5,216.2 L1343.8,212.5 L1341.2,210.0 L1343.1,206.2 L1340.0,205.0 L1336.2,203.8 L1332.5,205.6 L1328.8,203.8 L1325.0,201.2 L1322.5,197.5 L1321.9,192.5Z"/>
<path d="M1372.5,200.0 L1377.5,202.5 L1382.5,203.8 L1387.5,205.0 L1390.0,210.0 L1391.2,215.0 L1389.4,220.0 L1386.2,223.8 L1382.5,225.0 L1381.2,230.0 L1383.1,235.0 L1384.4,240.0 L1387.5,243.1 L1383.8,245.0 L1381.2,250.0 L1380.0,253.8 L1376.2,256.2 L1375.6,261.2 L1375.0,266.2 L1373.8,270.0 L1376.2,273.8 L1375.6,278.8 L1375.0,283.1 L1372.5,280.0 L1370.0,276.2 L1366.2,273.8 L1362.5,275.0 L1360.6,270.6 L1363.8,267.5 L1363.8,263.8 L1367.5,260.0 L1366.9,255.0 L1368.1,250.0 L1370.6,245.0 L1372.5,240.0 L1374.4,235.0 L1375.0,230.0 L1376.9,225.0 L1373.8,226.2 L1371.2,230.0 L1372.5,223.8 L1370.0,225.0 L1365.0,227.5 L1368.1,221.2 L1371.2,215.0 L1373.8,208.8 L1371.9,203.8Z"/>
<path d="M1387.5,135.0 L1406.2,137.5 L1405.6,142.5 L1402.5,146.2 L1400.0,150.0 L1398.8,156.2 L1395.0,162.5 L1400.0,170.0 L1398.8,173.8 L1393.8,175.0 L1392.5,180.0 L1395.0,183.8 L1397.5,187.5 L1392.5,191.2 L1387.5,193.8 L1386.2,200.0 L1387.5,205.0 L1377.5,203.8 L1372.5,200.0 L1367.5,192.5 L1362.5,188.8 L1364.4,183.8 L1363.8,177.5 L1365.0,171.2 L1368.1,167.5 L1366.2,162.5 L1367.5,157.5 L1371.2,153.8 L1377.5,150.0 L1382.5,147.5 L1386.2,142.5Z"/>
<path d="M1407.5,177.5 L1411.2,173.8 L1416.2,171.2 L1421.0,170.0 L1418.8,174.4 L1415.0,178.1 L1410.0,180.6Z"/>
<path d="M1393.1,213.8 L1397.5,212.5 L1400.0,211.2 L1401.2,215.0 L1403.8,218.1 L1402.5,222.5 L1400.0,227.5 L1396.2,226.2 L1395.0,221.2 L1395.6,217.5Z"/>
<path d="M1406.2,219.8 L1409.0,220.0 L1409.4,222.8 L1406.9,223.1Z"/>
<path d="M1350.0,166.2 L1353.1,168.8 L1357.5,170.0 L1358.8,174.4 L1355.0,176.2 L1352.5,173.8 L1351.2,170.0Z"/>
<path d="M1317.5,164.4 L1320.6,163.8 L1323.1,165.6 L1325.6,164.4 L1325.6,168.1 L1321.9,169.4 L1319.4,167.5Z"/>
<path d="M1437.5,160.2 L1440.6,159.0 L1441.2,161.5 L1438.5,161.9Z"/>
<path d="M1365.0,225.0 L1368.1,217.5 L1370.6,210.0 L1371.9,212.5 L1369.4,220.0 L1366.9,227.5Z"/>
<path d="M928.2,257.5 L931.0,256.5 L933.2,258.0 L932.0,259.5 L929.2,259.2Z"/>
<path d="M873.5,374.5 L877.0,375.0 L879.0,377.5 L876.5,378.5 L874.0,377.0Z"/>
</g>
<g fill="#fff" stroke="none">
<path d="M1080.0,367.5 L1078.1,370.0 L1072.5,370.0 L1068.8,371.9 L1065.0,370.6 L1063.8,368.8 L1060.0,370.6 L1053.8,368.8 L1048.8,370.0 L1045.0,370.6 L1041.2,368.8 L1036.9,366.2 L1033.8,361.9 L1030.6,358.5 L1031.9,360.6 L1035.6,365.0 L1038.1,368.1 L1042.5,371.2 L1046.2,372.5 L1051.2,370.6 L1058.1,371.9 L1060.0,374.4 L1063.8,376.9 L1068.8,376.9 L1072.5,378.8 L1076.2,380.0 L1081.2,378.1 L1085.0,375.6 L1083.8,372.5Z"/>
<path d="M1071.2,350.0 L1075.0,350.6 L1080.0,354.4 L1083.1,351.9 L1078.1,353.1 L1075.6,354.4 L1072.5,353.1Z"/>
<path d="M1086.9,406.9 L1082.5,409.4 L1081.9,410.0 L1076.2,410.0 L1071.2,411.9 L1065.0,413.8 L1060.0,413.1 L1053.8,412.5 L1046.2,416.2 L1035.0,425.0 L1026.2,433.1 L1026.2,431.9 L1028.8,426.9 L1035.0,420.0 L1042.5,411.2 L1047.5,409.4 L1055.0,408.1 L1060.0,407.5 L1065.0,403.8 L1070.0,400.6 L1076.2,398.1 L1079.4,398.1 L1080.0,401.2 L1078.1,405.0 L1081.9,406.9Z"/>
<path d="M1066.9,431.2 L1063.8,431.9 L1060.0,433.8 L1058.1,437.5 L1056.2,441.2 L1053.8,445.0 L1051.2,448.1 L1047.5,449.4 L1041.2,448.8 L1035.0,446.9 L1030.0,447.5 L1026.2,450.0 L1023.1,453.1 L1026.2,453.1 L1030.0,451.2 L1035.0,451.9 L1041.2,452.5 L1047.5,451.9 L1051.2,450.0 L1056.2,451.9 L1060.0,450.6 L1062.5,447.5 L1066.2,445.0 L1068.8,441.2 L1072.5,438.8 L1075.0,435.0 L1075.6,431.9 L1072.5,430.0 L1070.0,428.8Z"/>
<path d="M1127.5,416.2 L1130.6,415.0 L1133.8,417.5 L1135.0,419.4 L1131.9,420.0 L1128.8,418.1Z"/>
<path d="M1240.0,672.0 L1236.0,670.0 L1230.0,669.0 L1220.0,670.0 L1210.0,672.0 L1200.0,674.5 L1192.0,680.0 L1185.0,685.0 L1178.0,690.0 L1170.0,694.5 L1165.0,692.0 L1163.5,690.5 L1169.0,695.5 L1173.0,696.5 L1180.0,695.0 L1188.0,690.5 L1196.0,687.0 L1202.0,683.5 L1210.0,680.0 L1216.0,677.0 L1223.0,674.5 L1233.0,676.0 L1237.5,675.7Z"/>
<path d="M1160.0,770.0 L1158.0,768.0 L1150.0,766.0 L1140.0,763.0 L1134.0,761.0 L1127.0,763.0 L1123.0,764.4 L1119.0,761.0 L1113.0,755.0 L1107.0,750.4 L1100.0,747.6 L1101.0,749.6 L1106.0,752.4 L1111.0,757.0 L1117.0,763.6 L1121.0,767.6 L1127.0,770.0 L1136.0,770.0 L1144.0,772.0 L1154.0,774.0 L1160.0,775.0 L1166.0,773.0 L1165.6,770.0Z"/>
<path d="M889.9,683.9 L894.4,678.3 L899.8,672.9 L905.3,665.9 L910.7,655.1 L915.3,645.8 L920.8,636.5 L927.0,625.6 L930.9,617.1 L934.7,610.9 L939.4,604.7 L943.3,593.8 L941.7,591.5 L940.2,593.4 L937.1,602.4 L931.6,607.0 L927.0,612.4 L922.3,617.9 L914.6,628.7 L906.8,638.0 L899.8,645.8 L892.9,655.9 L886.7,663.6 L878.0,669.0 L882.6,677.4Z"/>
<path d="M940.0,588.0 L941.0,591.0 L930.0,590.0 L920.0,589.0 L913.0,587.6 L920.0,587.0 L930.0,588.0Z"/>
<path d="M932.0,624.0 L940.0,622.0 L948.0,620.0 L956.0,618.6 L948.0,621.6 L940.0,623.6 L933.0,626.0Z"/>
<path d="M900.0,678.0 L910.0,675.0 L920.0,676.0 L928.0,672.0 L936.0,664.0 L943.0,658.0 L940.0,664.0 L932.0,672.0 L924.0,678.0 L914.0,678.0 L906.0,679.0Z"/>
<path d="M831.6,629.0 L840.0,628.0 L848.0,624.0 L856.0,620.0 L864.0,622.0 L872.0,624.4 L884.0,624.0 L872.0,626.0 L864.0,624.0 L856.0,622.4 L849.0,626.4 L840.0,630.4 L832.0,632.0Z"/>
<path d="M965.6,713.0 L961.0,718.4 L954.4,722.0 L949.0,722.0 L946.0,726.0 L944.0,732.0 L942.4,736.0 L938.0,741.0 L932.0,744.0 L929.0,748.0 L925.0,752.0 L922.0,758.0 L919.0,761.0 L915.0,765.0 L912.4,770.0 L913.0,780.0 L911.0,790.0 L912.0,800.0 L920.0,809.0 L918.2,812.8 L914.0,814.0 L906.0,811.0 L898.0,804.0 L899.0,792.0 L901.0,780.0 L898.0,770.0 L899.0,767.0 L904.0,772.0 L908.0,767.0 L915.0,759.0 L920.0,750.0 L929.0,740.0 L937.0,735.0 L940.0,730.0 L942.0,724.0 L947.0,719.0 L957.0,717.0 L964.0,712.0Z"/>
<path d="M971.0,787.0 L980.0,784.0 L990.0,785.0 L1000.0,787.0 L1010.0,788.4 L1019.0,789.4 L1010.0,787.0 L1000.0,784.0 L992.0,780.0 L986.0,776.0 L983.0,771.0 L980.0,764.0 L977.0,756.0 L975.0,757.0 L976.0,768.0 L978.0,775.0 L974.0,780.0 L972.4,772.0 L973.0,760.0 L976.0,750.0 L980.0,740.0 L985.0,730.0 L984.0,729.0 L978.0,739.0 L973.0,750.0 L970.0,760.0 L969.0,770.0 L970.0,778.0 L968.0,786.0 L969.4,788.6Z"/>
<path d="M876.0,825.0 L896.0,807.6 L897.0,809.0 L878.0,826.0Z"/>
<path d="M754.4,322.5 L760.0,320.6 L767.5,319.4 L774.4,317.8 L775.0,319.0 L768.8,321.0 L761.2,322.5 L755.6,323.5Z"/>
<path d="M738.8,328.8 L750.0,328.5 L750.6,329.5 L741.9,330.0 L738.8,335.0 L735.6,340.0 L736.9,346.2 L738.8,352.5 L736.9,352.5 L734.4,346.2 L733.1,340.0 L736.2,333.8Z"/>
<path d="M693.8,333.1 L700.0,330.6 L711.2,329.0 L711.9,330.0 L702.5,331.9 L695.6,334.8Z"/>
<path d="M714.8,301.2 L715.8,301.2 L716.5,308.8 L716.9,315.0 L715.8,315.0 L715.2,308.8Z"/>
<path d="M1158.8,204.4 L1164.8,209.3 L1161.8,212.4 L1158.6,212.4Z"/>
<path d="M965.5,736.5 L966.8,736.2 L969.0,743.0 L968.2,747.0 L971.5,751.5 L970.5,752.5 L966.8,747.8 L967.6,743.2Z"/>
<path d="M938.5,771.0 L940.0,770.8 L943.0,777.0 L945.0,783.0 L948.0,790.0 L946.8,790.5 L943.6,783.5 L941.5,777.5Z"/>
<path d="M960.0,774.5 L961.0,773.8 L967.0,776.8 L967.5,778.0 L966.0,778.2Z"/>
</g>
<g fill="rgb(18,118,188)" fill-opacity="0.3">
<circle cx="1390.4" cy="167.5" r="33.2"/>
<circle cx="1111.6" cy="203.6" r="47"/>
<circle cx="680.6" cy="392.25" r="33"/>
<circle cx="963.1" cy="362.4" r="73.9"/>
<circle cx="1277.5" cy="414.1" r="92.3"/>
<circle cx="1080.6" cy="532.6" r="60.1"/>
<circle cx="1310.2" cy="557.9" r="74"/>
<circle cx="909" cy="634.6" r="77.8"/>
<circle cx="1208.75" cy="658.25" r="73.75" fill="rgb(62,112,158)"/>
<circle cx="1072.75" cy="735.6" r="62"/>
<circle cx="925.8" cy="798.4" r="138.9"/>
<circle cx="1283" cy="797.1" r="151.4"/>
<circle cx="1108.5" cy="872" r="67.2"/>
<circle cx="967.9" cy="959.75" r="74"/>
<circle cx="1310" cy="951.5" r="46.75"/>
<circle cx="1108.25" cy="1038.5" r="53.6"/>
</g>
<text x="1377.11" y="161.2" font-family='"Liberation Sans", "DejaVu Sans", sans-serif' font-size="23.6" font-weight="bold" fill="#fff" textLength="28.50" lengthAdjust="spacingAndGlyphs" stroke="#fff" stroke-width="1.5" stroke-linejoin="round">ZE</text>
<text x="1376.90" y="191.2" font-family='"Liberation Sans", "DejaVu Sans", sans-serif' font-size="23.6" font-weight="bold" fill="#fff" textLength="28.27" lengthAdjust="spacingAndGlyphs" stroke="#fff" stroke-width="1.5" stroke-linejoin="round">83</text>
<text x="1090.91" y="198.2" font-family='"Liberation Sans", "DejaVu Sans", sans-serif' font-size="23.6" font-weight="bold" fill="#fff" textLength="39.79" lengthAdjust="spacingAndGlyphs" stroke="#fff" stroke-width="1.5" stroke-linejoin="round">KW</text>
<text x="1089.88" y="228.0" font-family='"Liberation Sans", "DejaVu Sans", sans-serif' font-size="23.6" font-weight="bold" fill="#fff" textLength="43.72" lengthAdjust="spacingAndGlyphs" stroke="#fff" stroke-width="1.5" stroke-linejoin="round">202</text>
<text x="664.22" y="388.0" font-family='"Liberation Sans", "DejaVu Sans", sans-serif' font-size="23.6" font-weight="bold" fill="#fff" textLength="32.25" lengthAdjust="spacingAndGlyphs" stroke="#fff" stroke-width="1.5" stroke-linejoin="round">HS</text>
<text x="666.13" y="417.0" font-family='"Liberation Sans", "DejaVu Sans", sans-serif' font-size="23.6" font-weight="bold" fill="#fff" textLength="29.07" lengthAdjust="spacingAndGlyphs" stroke="#fff" stroke-width="1.5" stroke-linejoin="round">86</text>
<text x="950.29" y="359.5" font-family='"Liberation Sans", "DejaVu Sans", sans-serif' font-size="23.6" font-weight="bold" fill="#fff" textLength="24.45" lengthAdjust="spacingAndGlyphs" stroke="#fff" stroke-width="1.5" stroke-linejoin="round">IV</text>
<text x="941.92" y="389.5" font-family='"Liberation Sans", "DejaVu Sans", sans-serif' font-size="23.6" font-weight="bold" fill="#fff" textLength="41.73" lengthAdjust="spacingAndGlyphs" stroke="#fff" stroke-width="1.5" stroke-linejoin="round">907</text>
<text x="1259.24" y="405.5" font-family='"Liberation Sans", "DejaVu Sans", sans-serif' font-size="23.6" font-weight="bold" fill="#fff" textLength="33.60" lengthAdjust="spacingAndGlyphs" stroke="#fff" stroke-width="1.5" stroke-linejoin="round">AB</text>
<text x="1243.64" y="435.5" font-family='"Liberation Sans", "DejaVu Sans", sans-serif' font-size="23.6" font-weight="bold" fill="#fff" textLength="64.52" lengthAdjust="spacingAndGlyphs" stroke="#fff" stroke-width="1.5" stroke-linejoin="round">1,124</text>
<text x="1063.36" y="525.0" font-family='"Liberation Sans", "DejaVu Sans", sans-serif' font-size="23.6" font-weight="bold" fill="#fff" textLength="34.53" lengthAdjust="spacingAndGlyphs" stroke="#fff" stroke-width="1.5" stroke-linejoin="round">PH</text>
<text x="1059.27" y="555.0" font-family='"Liberation Sans", "DejaVu Sans", sans-serif' font-size="23.6" font-weight="bold" fill="#fff" textLength="43.34" lengthAdjust="spacingAndGlyphs" stroke="#fff" stroke-width="1.5" stroke-linejoin="round">538</text>
<text x="1294.55" y="563.0" font-family='"Liberation Sans", "DejaVu Sans", sans-serif' font-size="23.6" font-weight="bold" fill="#fff" textLength="35.77" lengthAdjust="spacingAndGlyphs" stroke="#fff" stroke-width="1.5" stroke-linejoin="round">DD</text>
<text x="1291.69" y="593.0" font-family='"Liberation Sans", "DejaVu Sans", sans-serif' font-size="23.6" font-weight="bold" fill="#fff" textLength="42.52" lengthAdjust="spacingAndGlyphs" stroke="#fff" stroke-width="1.5" stroke-linejoin="round">719</text>
<text x="893.35" y="633.8" font-family='"Liberation Sans", "DejaVu Sans", sans-serif' font-size="23.6" font-weight="bold" fill="#fff" textLength="32.97" lengthAdjust="spacingAndGlyphs" stroke="#fff" stroke-width="1.5" stroke-linejoin="round">PA</text>
<text x="887.89" y="663.8" font-family='"Liberation Sans", "DejaVu Sans", sans-serif' font-size="23.6" font-weight="bold" fill="#fff" textLength="42.82" lengthAdjust="spacingAndGlyphs" stroke="#fff" stroke-width="1.5" stroke-linejoin="round">936</text>
<text x="1193.70" y="650.0" font-family='"Liberation Sans", "DejaVu Sans", sans-serif' font-size="23.6" font-weight="bold" fill="#fff" textLength="32.61" lengthAdjust="spacingAndGlyphs" stroke="#fff" stroke-width="1.5" stroke-linejoin="round">KY</text>
<text x="1189.39" y="680.0" font-family='"Liberation Sans", "DejaVu Sans", sans-serif' font-size="23.6" font-weight="bold" fill="#fff" textLength="42.93" lengthAdjust="spacingAndGlyphs" stroke="#fff" stroke-width="1.5" stroke-linejoin="round">990</text>
<text x="1053.76" y="729.2" font-family='"Liberation Sans", "DejaVu Sans", sans-serif' font-size="23.6" font-weight="bold" fill="#fff" textLength="29.84" lengthAdjust="spacingAndGlyphs" stroke="#fff" stroke-width="1.5" stroke-linejoin="round">FK</text>
<text x="1047.80" y="758.2" font-family='"Liberation Sans", "DejaVu Sans", sans-serif' font-size="23.6" font-weight="bold" fill="#fff" textLength="42.41" lengthAdjust="spacingAndGlyphs" stroke="#fff" stroke-width="1.5" stroke-linejoin="round">663</text>
<text x="917.33" y="777.5" font-family='"Liberation Sans", "DejaVu Sans", sans-serif' font-size="23.6" font-weight="bold" fill="#fff" textLength="17.58" lengthAdjust="spacingAndGlyphs" stroke="#fff" stroke-width="1.5" stroke-linejoin="round">G</text>
<text x="893.12" y="807.5" font-family='"Liberation Sans", "DejaVu Sans", sans-serif' font-size="23.6" font-weight="bold" fill="#fff" textLength="63.17" lengthAdjust="spacingAndGlyphs" stroke="#fff" stroke-width="1.5" stroke-linejoin="round">3,121</text>
<text x="1259.19" y="773.2" font-family='"Liberation Sans", "DejaVu Sans", sans-serif' font-size="23.6" font-weight="bold" fill="#fff" textLength="32.87" lengthAdjust="spacingAndGlyphs" stroke="#fff" stroke-width="1.5" stroke-linejoin="round">EH</text>
<text x="1243.86" y="803.2" font-family='"Liberation Sans", "DejaVu Sans", sans-serif' font-size="23.6" font-weight="bold" fill="#fff" textLength="63.68" lengthAdjust="spacingAndGlyphs" stroke="#fff" stroke-width="1.5" stroke-linejoin="round">3,371</text>
<text x="1089.54" y="862.5" font-family='"Liberation Sans", "DejaVu Sans", sans-serif' font-size="23.6" font-weight="bold" fill="#fff" textLength="36.02" lengthAdjust="spacingAndGlyphs" stroke="#fff" stroke-width="1.5" stroke-linejoin="round">ML</text>
<text x="1086.53" y="892.5" font-family='"Liberation Sans", "DejaVu Sans", sans-serif' font-size="23.6" font-weight="bold" fill="#fff" textLength="42.97" lengthAdjust="spacingAndGlyphs" stroke="#fff" stroke-width="1.5" stroke-linejoin="round">685</text>
<text x="945.90" y="953.2" font-family='"Liberation Sans", "DejaVu Sans", sans-serif' font-size="23.6" font-weight="bold" fill="#fff" textLength="33.60" lengthAdjust="spacingAndGlyphs" stroke="#fff" stroke-width="1.5" stroke-linejoin="round">KA</text>
<text x="941.91" y="983.2" font-family='"Liberation Sans", "DejaVu Sans", sans-serif' font-size="23.6" font-weight="bold" fill="#fff" textLength="41.94" lengthAdjust="spacingAndGlyphs" stroke="#fff" stroke-width="1.5" stroke-linejoin="round">854</text>
<text x="1293.02" y="941.2" font-family='"Liberation Sans", "DejaVu Sans", sans-serif' font-size="23.6" font-weight="bold" fill="#fff" textLength="30.47" lengthAdjust="spacingAndGlyphs" stroke="#fff" stroke-width="1.5" stroke-linejoin="round">TD</text>
<text x="1287.00" y="971.2" font-family='"Liberation Sans", "DejaVu Sans", sans-serif' font-size="23.6" font-weight="bold" fill="#fff" textLength="42.82" lengthAdjust="spacingAndGlyphs" stroke="#fff" stroke-width="1.5" stroke-linejoin="round">312</text>
<text x="1089.86" y="1033.0" font-family='"Liberation Sans", "DejaVu Sans", sans-serif' font-size="23.6" font-weight="bold" fill="#fff" textLength="36.34" lengthAdjust="spacingAndGlyphs" stroke="#fff" stroke-width="1.5" stroke-linejoin="round">DG</text>
<text x="1087.07" y="1063.2" font-family='"Liberation Sans", "DejaVu Sans", sans-serif' font-size="23.6" font-weight="bold" fill="#fff" textLength="42.64" lengthAdjust="spacingAndGlyphs" stroke="#fff" stroke-width="1.5" stroke-linejoin="round">439</text>
<rect x="826" y="1104.2" width="471" height="25.5" fill="#244775"/>
<text x="843.76" y="1122.7" font-family='"Liberation Sans", "DejaVu Sans", sans-serif' font-size="20" font-weight="bold" fill="#fff" textLength="435.48" lengthAdjust="spacingAndGlyphs" stroke="#fff" stroke-width="0.7" stroke-linejoin="round">locations of constituents (post code areas)</text>
</svg>
</body></html>
